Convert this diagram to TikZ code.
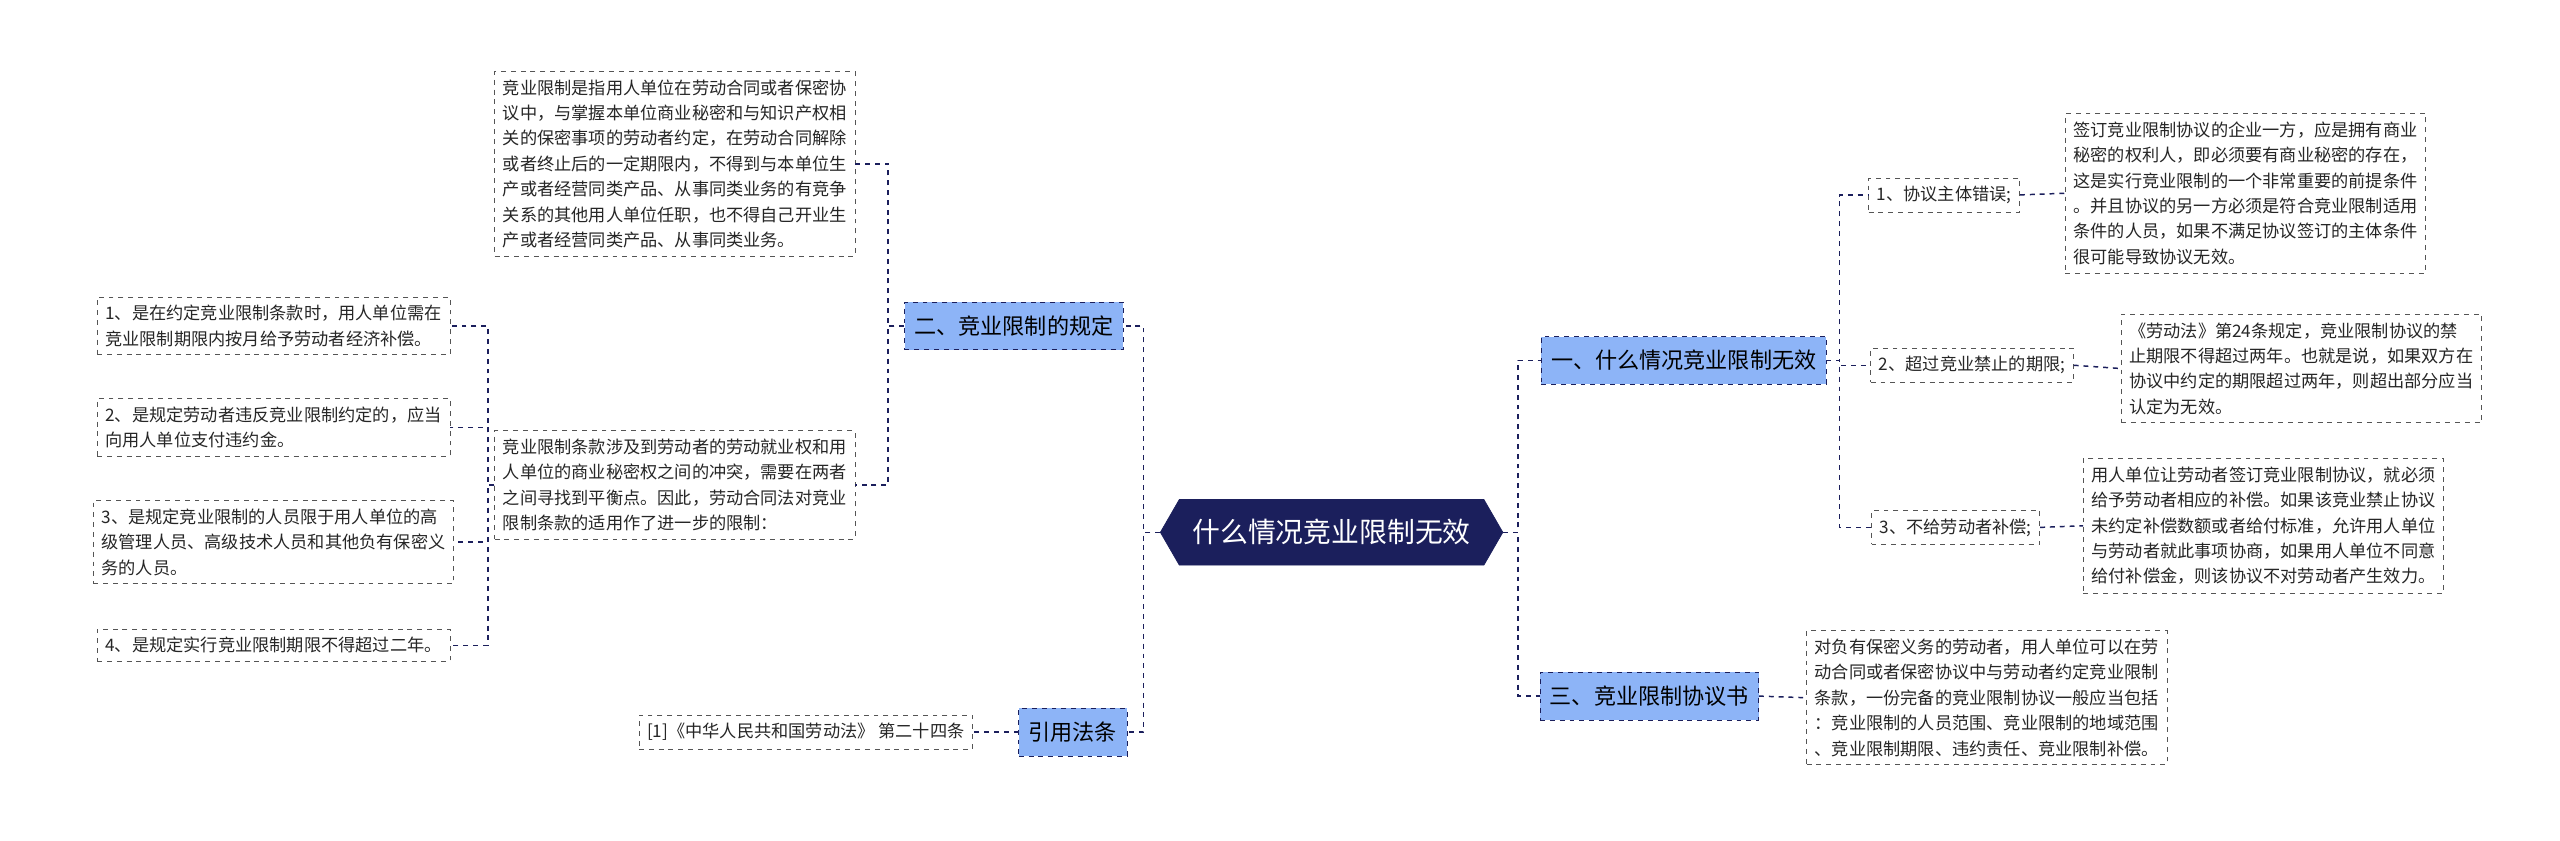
\documentclass[tikz,border=0pt]{standalone}
\usepackage{fontspec}
\setmainfont{Noto Sans CJK SC}
\usetikzlibrary{positioning, shapes.symbols}
\definecolor{navy}{HTML}{1B1F5C}
\definecolor{branchblue}{HTML}{8DB4F7}
\definecolor{linegray}{HTML}{555555}
\tikzset{
    root/.style={signal, signal to=west and east, signal pointer angle=120, fill=navy, draw=navy,
      text=white, font=\fontsize{17}{20}\selectfont, minimum height=40pt, inner xsep=8pt},
    branch/.style={draw=navy, dashed, fill=branchblue, font=\fontsize{13.5}{16}\selectfont,
      minimum height=29pt, inner xsep=6pt},
    leaf/.style={draw=linegray, dashed, align=left, font=\fontsize{10.5}{15.5}\selectfont,
      inner sep=5pt, text=black!85},
    link/.style={draw=navy, dashed, line width=0.9pt},
}
\begin{document}
\begin{tikzpicture}[x=1pt, y=-1pt]
    \useasboundingbox[fill=white] (0,0) rectangle (1563,513);

    \node[root] (root) at (813,325) {什么情况竞业限制无效};

    % left side
    \node[branch] (b2) at (619,199) {二、竞业限制的规定};
    \node[branch] (b4) at (655,447) {引用法条};
    \node[leaf] (d1) at (412,100) {竞业限制是指用人单位在劳动合同或者保密协\\议中，与掌握本单位商业秘密和与知识产权相\\关的保密事项的劳动者约定，在劳动合同解除\\或者终止后的一定期限内，不得到与本单位生\\产或者经营同类产品、从事同类业务的有竞争\\关系的其他用人单位任职，也不得自己开业生\\产或者经营同类产品、从事同类业务。};
    \node[leaf] (d2) at (412,296) {竞业限制条款涉及到劳动者的劳动就业权和用\\人单位的商业秘密权之间的冲突，需要在两者\\之间寻找到平衡点。因此，劳动合同法对竞业\\限制条款的适用作了进一步的限制：};
    \node[leaf] (e1) at (167,199) {1、是在约定竞业限制条款时，用人单位需在\\竞业限制期限内按月给予劳动者经济补偿。};
    \node[leaf] (e2) at (167,261) {2、是规定劳动者违反竞业限制约定的，应当\\向用人单位支付违约金。};
    \node[leaf] (e3) at (167,331) {3、是规定竞业限制的人员限于用人单位的高\\级管理人员、高级技术人员和其他负有保密义\\务的人员。};
    \node[leaf] (e4) at (167,394) {4、是规定实行竞业限制期限不得超过二年。};
    \node[leaf] (c1) at (492,447) {[1]《中华人民共和国劳动法》 第二十四条};

    % right side
    \node[branch] (b1) at (1028,220) {一、什么情况竞业限制无效};
    \node[branch] (b3) at (1007,425) {三、竞业限制协议书};
    \node[leaf] (s1) at (1187,119) {1、协议主体错误;};
    \node[leaf] (s2) at (1204,223) {2、超过竞业禁止的期限;};
    \node[leaf] (s3) at (1194,322) {3、不给劳动者补偿;};
    \node[leaf] (t1) at (1371,118) {签订竞业限制协议的企业一方，应是拥有商业\\秘密的权利人，即必须要有商业秘密的存在，\\这是实行竞业限制的一个非常重要的前提条件\\。并且协议的另一方必须是符合竞业限制适用\\条件的人员，如果不满足协议签订的主体条件\\很可能导致协议无效。};
    \node[leaf] (t2) at (1405,225) {《劳动法》第24条规定，竞业限制协议的禁\\止期限不得超过两年。也就是说，如果双方在\\协议中约定的期限超过两年，则超出部分应当\\认定为无效。};
    \node[leaf] (t3) at (1382,321) {用人单位让劳动者签订竞业限制协议，就必须\\给予劳动者相应的补偿。如果该竞业禁止协议\\未约定补偿数额或者给付标准，允许用人单位\\与劳动者就此事项协商，如果用人单位不同意\\给付补偿金，则该协议不对劳动者产生效力。};
    \node[leaf] (t4) at (1213,426) {对负有保密义务的劳动者，用人单位可以在劳\\动合同或者保密协议中与劳动者约定竞业限制\\条款，一份完备的竞业限制协议一般应当包括\\：竞业限制的人员范围、竞业限制的地域范围\\、竞业限制期限、违约责任、竞业限制补偿。};

    % connectors
    \draw[link] (root.west) -- ++(-10,0) |- (b2.east);
    \draw[link] (root.west) -- ++(-10,0) |- (b4.east);
    \draw[link] (b2.west) -- ++(-10,0) |- (d1.east);
    \draw[link] (b2.west) -- ++(-10,0) |- (d2.east);
    \foreach \e in {e1,e2,e3,e4}
      \draw[link] (d2.west) -- ++(-4,0) |- (\e.east);
    \draw[link] (b4.west) -- (c1.east);
    \draw[link] (root.east) -- ++(9,0) |- (b1.west);
    \draw[link] (root.east) -- ++(9,0) |- (b3.west);
    \foreach \s in {s1,s2,s3}
      \draw[link] (b1.east) -- ++(8,0) |- (\s.west);
    \draw[link] (s1.east) -- (t1.west);
    \draw[link] (s2.east) -- (t2.west);
    \draw[link] (s3.east) -- (t3.west);
    \draw[link] (b3.east) -- (t4.west);
\end{tikzpicture}
\end{document}
